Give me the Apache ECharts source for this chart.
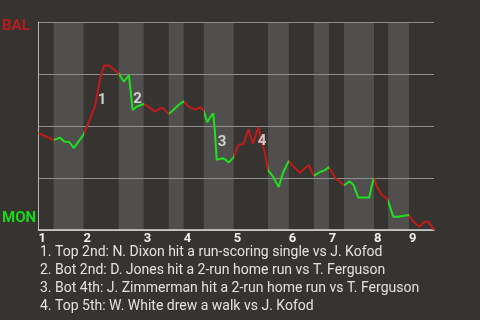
<!DOCTYPE html>
<html>
<head>
<meta charset="utf-8">
<script src="https://cdn.jsdelivr.net/npm/echarts@6/dist/echarts.min.js"></script>
<style>
  html, body { margin: 0; padding: 0; background: #363431; }
  #chart { width: 480px; height: 320px; }
</style>
</head>
<body>
<div id="chart"></div>
<script>
// Win probability for BAL (100 = BAL wins, 0 = MON wins), by play sequence
const playX = [
  0, 9,
  12.9, 15.5, 18.5, 21.1, 27,
  30.9, 33.9, 35.8, 36.9, 39.2, 42.2, 48,
  51.2, 54.2, 55.4, 56.4, 59, 63,
  65.8, 69.8, 72.8, 74.8, 78,
  80.8, 83.9, 87,
  89.8, 93.8, 96.8, 99,
  101.1, 103.2, 104.7, 105.7, 106.8, 107.9, 110.3, 112.3, 113.9, 117,
  119.8, 122.7, 125.8, 128.5, 131.7, 134.5, 135.7, 137.5,
  140.7, 143.9, 146.7, 150,
  152.7, 156.7, 161.9, 165,
  168.7, 171.7, 174,
  175.3, 178.3, 180.7, 183,
  186.4, 188.7, 191.6, 198.2, 199.7, 201,
  202.8, 205.8, 208.7, 209.5,
  212.6, 215.6, 218.6, 222,
  224.6, 228.3, 231.3, 233.6, 237
];
const balWinPct = [
  46.6, 43.3,
  44.4, 42.6, 42.3, 39.4, 45.8,
  53.4, 59.6, 67.8, 72.6, 79.1, 79.1, 75.3,
  71.3, 74.3, 65.4, 57.7, 59.4, 60.6,
  59.3, 56.9, 58.5, 58.5, 55.8,
  57.7, 60.1, 61.9,
  59.4, 57.9, 59.1, 57.3,
  51.8, 54.5, 56.1, 47.3, 33.7, 33.2, 34.5, 33.7, 32.4, 34.9,
  41.1, 41.2, 48.4, 41.5, 49.5, 40.4, 36.9, 28.8,
  25.5, 20.7, 27.9, 33.2,
  30.6, 27.5, 31.3, 26.0,
  27.9, 28.8, 30.3,
  28.6, 24.5, 23.2, 21.4,
  23.4, 21.8, 15.6, 15.6, 21.2, 25,
  20.8, 16.8, 15.1, 13.9,
  6.4, 6.4, 6.8, 7.2,
  4.0, 1.6, 4.0, 4.0, 0
];

// Where each half-inning begins (top 1, bot 1, top 2, ... top 9), plus the end
const halfInningStarts = [0, 9, 27, 48, 63, 78, 87, 99, 117, 137.5, 150, 165, 174, 183, 201, 209.5, 222, 237];
const inningLabels = ['1', '2', '3', '4', '5', '6', '7', '8', '9'];

// Key plays: marker number, position on the chart and description
const keyPlayNums = ['1', '2', '3', '4'];
const keyPlayX = [38.1, 59.3, 110, 133.9];
const keyPlayY = [62.5, 63.1, 42.2, 42.5];
const keyPlayText = [
  '1. Top 2nd: N. Dixon hit a run-scoring single vs J. Kofod',
  '2. Bot 2nd: D. Jones hit a 2-run home run vs T. Ferguson',
  '3. Bot 4th: J. Zimmerman hit a 2-run home run vs T. Ferguson',
  '4. Top 5th: W. White drew a walk vs J. Kofod'
];

const awayTeam = 'BAL';
const homeTeam = 'MON';

const RED = '#c01a1a';
const GREEN = '#1ee01e';
const FONT = 'Roboto';

const lineData = playX.map((x, i) => [x, balWinPct[i]]);

// Tops of innings in red (away batting), bottoms in green (home batting)
const pieces = [];
const shaded = [];
for (let i = 0; i < halfInningStarts.length - 1; i++) {
  const isTop = i % 2 === 0;
  pieces.push({ gte: halfInningStarts[i], lt: halfInningStarts[i + 1], color: isTop ? RED : GREEN });
  if (!isTop) shaded.push([{ xAxis: halfInningStarts[i] }, { xAxis: halfInningStarts[i + 1] }]);
}
pieces[pieces.length - 1].lte = halfInningStarts[halfInningStarts.length - 1];
delete pieces[pieces.length - 1].lt;

const inningStarts = halfInningStarts.filter((v, i) => i % 2 === 0 && i < halfInningStarts.length - 1);

const chart = echarts.init(document.getElementById('chart'));
chart.setOption({
  backgroundColor: '#363431',
  animation: false,
  grid: { left: 38.5, right: 46, top: 22, bottom: 90 },
  xAxis: {
    type: 'value',
    min: 0,
    max: halfInningStarts[halfInningStarts.length - 1],
    z: 2,
    axisLine: { show: true, lineStyle: { color: '#d6d6d6', width: 1.5 } },
    axisTick: { show: false },
    splitLine: { show: false },
    axisLabel: {
      customValues: inningStarts,
      formatter: v => inningLabels[inningStarts.indexOf(v)],
      align: 'left',
      margin: 2,
      color: '#eeeeee',
      fontFamily: FONT,
      fontWeight: 'bold',
      fontSize: 13
    }
  },
  yAxis: {
    type: 'value',
    min: 0,
    max: 100,
    interval: 25,
    z: 2,
    axisLine: { show: true, lineStyle: { color: '#b8b8b8', width: 1 } },
    axisTick: { show: false },
    axisLabel: { show: false },
    splitLine: { show: true, lineStyle: { color: '#8e8e8e', width: 1 } }
  },
  visualMap: {
    show: false,
    type: 'piecewise',
    dimension: 0,
    seriesIndex: 1,
    pieces: pieces
  },
  series: [
    {
      // shaded bottom half-innings
      type: 'line',
      z: 1,
      data: [],
      markArea: {
        silent: true,
        itemStyle: { color: '#504f4d' },
        data: shaded
      }
    },
    {
      type: 'line',
      z: 3,
      data: lineData,
      showSymbol: false,
      lineStyle: { width: 2 }
    },
    {
      type: 'scatter',
      z: 4,
      symbolSize: 0,
      data: keyPlayX.map((x, i) => [x, keyPlayY[i], keyPlayNums[i]]),
      label: {
        show: true,
        position: 'inside',
        formatter: p => p.data[2],
        color: '#f0f0f0',
        fontFamily: FONT,
        fontWeight: 'bold',
        fontSize: 15
      }
    }
  ],
  graphic: [
    { type: 'text', left: 2, top: 19, style: { text: awayTeam, fill: '#b81c1c', font: 'bold 15px ' + FONT } },
    { type: 'text', left: 2, top: 211, style: { text: homeTeam, fill: '#18d818', font: 'bold 15px ' + FONT } }
  ].concat(keyPlayText.map((t, i) => ({
    type: 'text',
    left: 40,
    top: 245 + i * 18.3,
    style: { text: t, fill: '#e2e2e2', font: '14px ' + FONT }
  })))
});
</script>
</body>
</html>
